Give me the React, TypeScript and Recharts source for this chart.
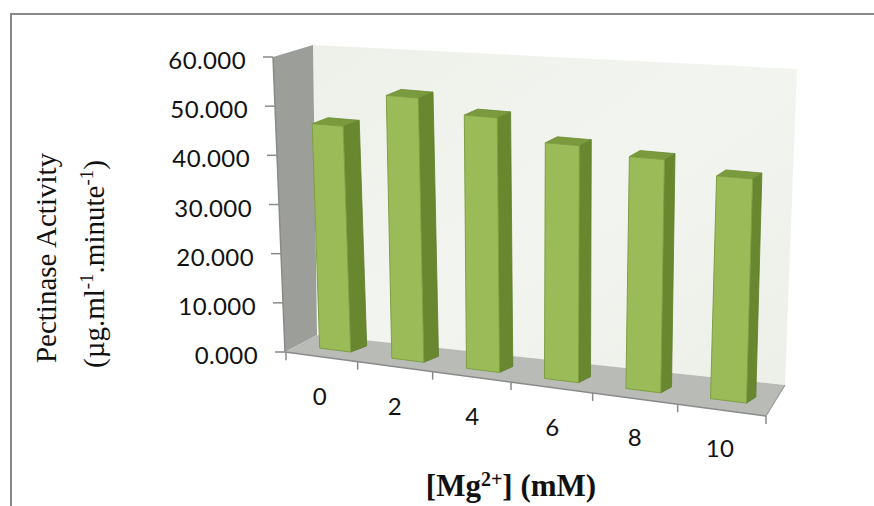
import React from 'react';
import { BarChart, Bar, XAxis, YAxis, ReferenceArea } from 'recharts';

// ---- data ----
const categories = ['0', '2', '4', '6', '8', '10'];
const activity = [46.0, 53.0, 50.3, 46.1, 44.7, 42.3];
const yTicks = [0, 10, 20, 30, 40, 50, 60];
const xTitle = { main: '[Mg', sup: '2+', tail: '] (mM)' };
const yTitleLine1 = 'Pectinase Activity';

const data = categories.map((mg, i) => ({ mg, activity: activity[i] }));
const Y_MAX = yTicks[yTicks.length - 1];

// ---- layout ----
const W = 874;
const H = 506;
const PLOT_LEFT = 286;
const PLOT_RIGHT = 766;
const PLOT_TOP = 57;
const PLOT_BOTTOM = 352;
const X_AXIS_H = 30;
const HALF_SPAN = (PLOT_RIGHT - PLOT_LEFT) / 2;

const pts = (a: number[][]) => a.map((q) => `${q[0].toFixed(1)},${q[1].toFixed(1)}`).join(' ');

const Walls = (p: any) => {
  const L = p.x;
  const R = p.x + p.width;
  const T = p.y;
  const B = p.y + p.height;
  const n = categories.length;
  const span = R - L;
  const half = span / 2;
  const side = [[L - 13, T], [L + 27, T - 12], [L + 31, B - 17], [L - 1, B]];
  const back = [[L + 27, T - 12], [R + 31, T + 12], [R + 19, B + 33], [L + 31, B - 17]];
  const floor = [[L - 1, B], [L + 31, B - 17], [R + 19, B + 33], [R, B + 64]];
  const slope = 64 / (R - L + 1);
  const ticks: any[] = [];
  for (let i = 0; i <= n; i++) {
    const t = (i * span) / n;
    const x = L + t - 15 * (1 - ((t - half) / half) ** 2);
    const y = B + (x - (L - 1)) * slope;
    ticks.push(<line key={i} x1={x} y1={y} x2={x} y2={y + 8} stroke="#8a8a8a" strokeWidth={1.5} />);
  }
  return (
    <g>
      <defs>
        <linearGradient id="backGrad" x1="0" y1="0" x2="1" y2="1">
          <stop offset="0" stopColor="#eef1ea" />
          <stop offset="0.5" stopColor="#f2f4ef" />
          <stop offset="1" stopColor="#edf0e9" />
        </linearGradient>
      </defs>
      <polygon points={pts(back)} fill="url(#backGrad)" />
      <polygon points={pts(side)} fill="#9c9e99" />
      <polygon points={pts(floor)} fill="#b9bbb6" />
      <line x1={L - 13} y1={T} x2={L - 1} y2={B} stroke="#8a8a8a" strokeWidth={1.5} />
      <line x1={L - 1} y1={B} x2={R} y2={B + 64} stroke="#8a8a8a" strokeWidth={1.5} />
      <line x1={R} y1={B + 64} x2={R + 19} y2={B + 33} stroke="#9a9a9a" strokeWidth={1.2} />
      {ticks}
    </g>
  );
};

const BarShape = (p: any) => {
  const { x, y, width, height } = p;
  if (width == null || height == null) return null;
  const cx = x + width / 2;
  const t = cx - PLOT_LEFT;
  const f = 0.995 + (t - 40) * 0.000198;
  const h = height * f;
  const w = width * (1 + (t - 40) * 0.0004);
  const mid = cx + (-5 + 10 * ((t - HALF_SPAN) / 200) ** 2);
  const bottom = y + height - 2 + (t - 40) * 0.127;
  const top = bottom - h;
  const lean = -(t - 259) * 0.000151 * h;
  const topC = mid - lean / 2;
  const botC = mid + lean / 2;
  const ts = 0.085;
  const bs = 0.127;
  const TL = [topC - w / 2, top - (w * ts) / 2];
  const TR = [topC + w / 2, top + (w * ts) / 2];
  const BR = [botC + w / 2, bottom + (w * bs) / 2];
  const BL = [botC - w / 2, bottom - (w * bs) / 2];
  const dx = 16 - (t - 40) * 0.0167;
  const dy = 6;
  const off = (q: number[]) => [q[0] + dx, q[1] - dy];
  return (
    <g>
      <polygon points={pts([TR, off(TR), off(BR), BR])} fill="#68872f" stroke="#5f7c2b" strokeWidth={0.8} />
      <polygon points={pts([TL, off(TL), off(TR), TR])} fill="#7a9a3d" stroke="#6c8a34" strokeWidth={0.8} />
      <polygon points={pts([TL, TR, BR, BL])} fill="#9bbb59" stroke="#7f9f43" strokeWidth={1} />
    </g>
  );
};

const YTick = (p: any) => {
  const v = p.payload.value;
  const y = p.y;
  const edge = PLOT_LEFT - 13 + (1 - v / Y_MAX) * 12;
  return (
    <g>
      <line x1={edge - 10} y1={y} x2={edge} y2={y} stroke="#8a8a8a" strokeWidth={1.5} />
      <text
        x={edge - 27}
        y={y + 2.5}
        textAnchor="end"
        dominantBaseline="central"
        fontFamily="Lato"
        fontSize={24}
        letterSpacing={0.4}
        fill="#111"
      >
        {Number(v).toFixed(3)}
      </text>
    </g>
  );
};

const XTick = (p: any) => {
  const t = p.x - PLOT_LEFT;
  const lx = p.x - 6 - 8 * (1 - ((t - HALF_SPAN) / 200) ** 2);
  const ly = PLOT_BOTTOM + 43 + (t - 40) * 0.13;
  return (
    <text
      x={lx}
      y={ly}
      textAnchor="middle"
      dominantBaseline="central"
      fontFamily="Lato"
      fontSize={24}
      letterSpacing={0.4}
      fill="#111"
    >
      {p.payload.value}
    </text>
  );
};

export default function App() {
  return (
    <div style={{ position: 'absolute', left: 0, top: 0, width: W, height: H, background: '#fff', overflow: 'hidden' }}>
      <div
        style={{
          position: 'absolute',
          left: 10,
          top: 13,
          width: W,
          height: H,
          borderTop: '2px solid #878787',
          borderLeft: '2px solid #878787',
          boxSizing: 'border-box',
        }}
      />
      <div style={{ position: 'absolute', left: 0, top: 0 }}>
        <BarChart
          width={W}
          height={H}
          data={data}
          margin={{ top: PLOT_TOP, right: W - PLOT_RIGHT, bottom: H - PLOT_BOTTOM - X_AXIS_H, left: 0 }}
        >
          <XAxis
            dataKey="mg"
            height={X_AXIS_H}
            axisLine={false}
            tickLine={false}
            tick={(p: any) => <XTick {...p} />}
            interval={0}
          />
          <YAxis
            type="number"
            domain={[0, Y_MAX]}
            ticks={yTicks}
            width={PLOT_LEFT}
            axisLine={false}
            tickLine={false}
            tick={(p: any) => <YTick {...p} />}
            interval={0}
          />
          <ReferenceArea y1={0} y2={Y_MAX} shape={(p: any) => <Walls {...p} />} zIndex={-60} />
          <Bar dataKey="activity" barSize={31} isAnimationActive={false} shape={(p: any) => <BarShape {...p} />} />
        </BarChart>
      </div>
      <svg width={W} height={H} style={{ position: 'absolute', left: 0, top: 0, pointerEvents: 'none' }}>
        <text
          x={56}
          y={258}
          transform="rotate(-90 56 258)"
          textAnchor="middle"
          fontFamily="'Liberation Serif', 'Times New Roman', serif"
          fontSize={29}
          fill="#111"
        >
          {yTitleLine1}
        </text>
        <text
          x={104}
          y={264}
          transform="rotate(-90 104 264)"
          textAnchor="middle"
          fontFamily="'Liberation Serif', 'Times New Roman', serif"
          fontSize={29}
          fill="#111"
        >
          <tspan>(µg.ml</tspan>
          <tspan dy={-11} fontSize={19}>-1</tspan>
          <tspan dy={11}>.minute</tspan>
          <tspan dy={-11} fontSize={19}>-1</tspan>
          <tspan dy={11}>)</tspan>
        </text>
        <text
          x={511}
          y={496}
          textAnchor="middle"
          fontFamily="'Liberation Serif', 'Times New Roman', serif"
          fontWeight="bold"
          fontSize={31}
          fill="#111"
        >
          <tspan>{xTitle.main}</tspan>
          <tspan dy={-10} fontSize={20}>{xTitle.sup}</tspan>
          <tspan dy={10}>{xTitle.tail}</tspan>
        </text>
      </svg>
    </div>
  );
}
